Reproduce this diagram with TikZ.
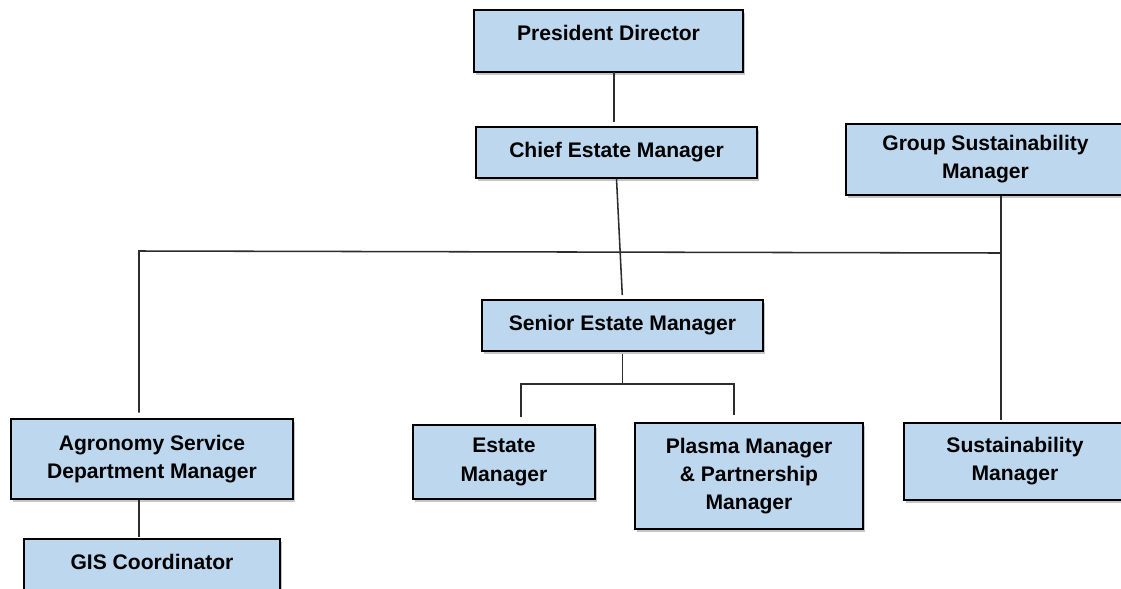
\documentclass[tikz,border=0pt]{standalone}
\usepackage{fontspec}
\setmainfont{Liberation Sans}
\usetikzlibrary{positioning, calc, shadows}
\definecolor{boxblue}{RGB}{189,215,238}
\definecolor{linegray}{RGB}{45,45,45}
\tikzset{
  rolebox/.style={draw=black, line width=0.9pt, fill=boxblue, align=center, inner sep=0pt,
    font=\fontsize{15}{20}\selectfont\bfseries,
    drop shadow={shadow xshift=1.4pt, shadow yshift=-1.8pt, opacity=0.45}},
  textup/.style={text height=0.38cm, text depth=0.4cm},
  orgline/.style={draw=linegray, line width=1.1pt}
}

\begin{document}
\begin{tikzpicture}[x=0.025cm,y=-0.025cm]
    \useasboundingbox (0,0) rectangle (1121,588);

    % Top of the chart
    \node[rolebox,textup,minimum width=6.725cm,minimum height=1.55cm] (pd) at (608.5,41) {President Director};
    \node[rolebox,minimum width=7.025cm,minimum height=1.275cm] (cem) at (616.5,152.5) {Chief Estate Manager};
    \node[rolebox,minimum width=6.975cm,minimum height=1.775cm] (gsm) at (985.5,159.5) {Group Sustainability\\Manager};

    % Middle
    \node[rolebox,minimum width=7.025cm,minimum height=1.275cm] (sem) at (622.5,325.5) {Senior Estate Manager};

    % Bottom row
    \node[rolebox,minimum width=7.05cm,minimum height=2cm] (asdm) at (152,459) {Agronomy Service\\Department Manager};
    \node[rolebox,textup,minimum width=6.4cm,minimum height=1.55cm] (gis) at (152,570) {GIS Coordinator};
    \node[rolebox,minimum width=4.55cm,minimum height=1.85cm] (em) at (504,462) {Estate\\Manager};
    \node[rolebox,minimum width=5.7cm,minimum height=2.65cm] (pm) at (749,476) {Plasma Manager\\\& Partnership\\Manager};
    \node[rolebox,minimum width=5.55cm,minimum height=1.925cm] (susm) at (1015,461.5) {Sustainability\\Manager};

    % Junctions
    \coordinate (busL) at (139,251);
    \coordinate (busR) at (1001,253);
    \coordinate (forkL) at (521,384);
    \coordinate (forkR) at (734,384);
    \coordinate (pdc) at (614,72);

    % Connectors
    \draw[orgline,shorten >=3pt] (pdc) -- (pdc |- cem.north);
    \draw[orgline,shorten >=3pt] (cem.south) -- (sem.north);
    \draw[orgline,shorten <=4pt] (busL |- asdm.north) -- (busL) -- (busR);
    \draw[orgline,shorten >=2pt] (gsm.south -| busR) -- (busR |- susm.north);
    \draw[orgline,shorten <=2pt] (sem.south) -- (sem.south |- forkL);
    \draw[orgline,shorten <=5pt,shorten >=5pt] (forkL |- em.north) -- (forkL) -- (forkR) -- (forkR |- pm.north);
    \draw[orgline,shorten >=1pt] (asdm.south -| busL) -- (busL |- gis.north);
\end{tikzpicture}
\end{document}
